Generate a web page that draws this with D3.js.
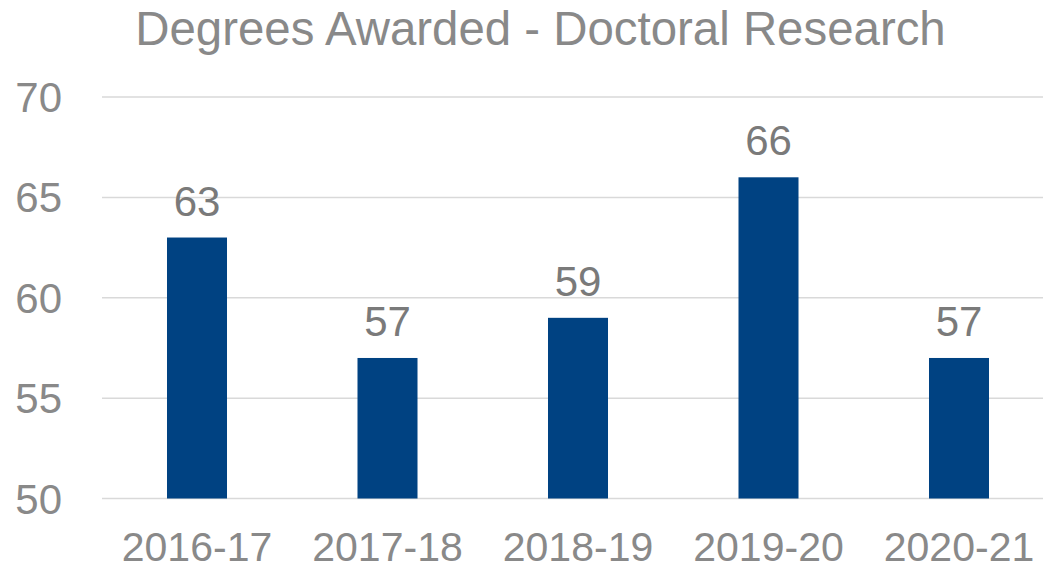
<!DOCTYPE html>
<html><head><meta charset="utf-8">
<script src="https://cdn.jsdelivr.net/npm/d3@7"></script>
<style>body{margin:0;background:#fff}svg{display:block}</style>
</head><body>
<svg id="c" width="1043" height="570"></svg>
<script>
const title = "Degrees Awarded - Doctoral Research";
const categories = ["2016-17","2017-18","2018-19","2019-20","2020-21"];
const values = [63,57,59,66,57];
const yTicks = [50,55,60,65,70];

const svg = d3.select("#c");
const font = "'Liberation Sans', Arial, sans-serif";
const grey = "#898989";
const x = d3.scaleBand().domain(categories).range([101.75,1054.25]).paddingInner(0.685).paddingOuter(0.3425);
const y = d3.scaleLinear().domain([50,70]).range([498.5,97]);

// gridlines
svg.append("g").selectAll("line").data(yTicks).join("line")
  .attr("x1",102).attr("x2",1043)
  .attr("y1",d=>y(d)).attr("y2",d=>y(d))
  .attr("stroke","#d9d9d9").attr("stroke-width",1.5);

// y labels
svg.append("g").selectAll("text").data(yTicks).join("text")
  .attr("x",62).attr("y",d=>y(d)+15)
  .attr("text-anchor","end").attr("font-family",font).attr("font-size",42).attr("fill",grey)
  .text(d=>d);

// bars
svg.append("g").selectAll("rect").data(values).join("rect")
  .attr("x",(d,i)=>x(categories[i])).attr("width",x.bandwidth())
  .attr("y",d=>y(d)).attr("height",d=>y(50)-y(d))
  .attr("fill","#004282");

// data labels
svg.append("g").selectAll("text").data(values).join("text")
  .attr("x",(d,i)=>x(categories[i])+x.bandwidth()/2).attr("y",d=>y(d)-22)
  .attr("text-anchor","middle").attr("font-family",font).attr("font-size",42).attr("fill","#7a7a7a")
  .text(d=>d);

// x labels
svg.append("g").selectAll("text").data(categories).join("text")
  .attr("x",d=>x(d)+x.bandwidth()/2).attr("y",561)
  .attr("text-anchor","middle").attr("font-family",font).attr("font-size",41).attr("fill",grey)
  .text(d=>d);

// title
svg.append("text").attr("x",540.5).attr("y",45)
  .attr("text-anchor","middle").attr("font-family",font).attr("font-size",47.4).attr("fill",grey)
  .text(title);
</script>
</body></html>
